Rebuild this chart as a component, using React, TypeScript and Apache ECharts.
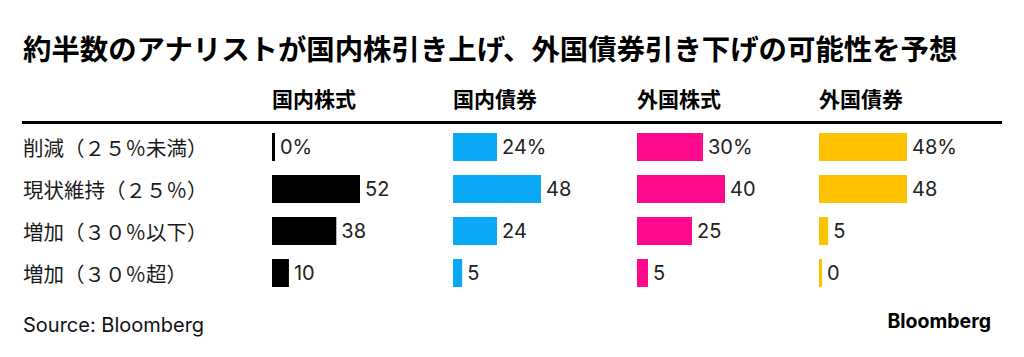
import React, { useEffect, useRef } from "react";
import * as echarts from "echarts";

const titleText = "約半数のアナリストが国内株引き上げ、外国債券引き下げの可能性を予想";
const categories = ["削減（２５％未満）", "現状維持（２５％）", "増加（３０％以下）", "増加（３０％超）"];
const columnNames = ["国内株式", "国内債券", "外国株式", "外国債券"];
const domesticStocks = [0, 52, 38, 10];
const domesticBonds = [24, 48, 24, 5];
const foreignStocks = [30, 40, 25, 5];
const foreignBonds = [48, 48, 5, 0];
const sourceText = "Source: Bloomberg";
const logoText = "Bloomberg";

const seriesData = [domesticStocks, domesticBonds, foreignStocks, foreignBonds];
const colors = ["#000000", "#0AA8F5", "#FF0A8C", "#FFC200"];
const colLefts = [272, 453, 637, 819];
const barSpan = 88;
const CJK = '"Noto Sans CJK JP", "Noto Sans", sans-serif';
const LATIN = 'Inter, "Liberation Sans", sans-serif';

export default function App() {
  const ref = useRef<HTMLDivElement>(null);
  useEffect(() => {
    if (!ref.current) return;
    const chart = echarts.init(ref.current, null, { renderer: "svg" });
    const grids = colLefts.map((left) => ({ left, top: 126, width: barSpan, height: 168 }));
    const xAxes = seriesData.map((d, i) => ({
      type: "value" as const,
      gridIndex: i,
      min: 0,
      max: Math.max(...d),
      show: false,
    }));
    const yAxes = seriesData.map((_, i) => ({
      type: "category" as const,
      gridIndex: i,
      data: categories,
      inverse: true,
      axisLine: { show: false },
      axisTick: { show: false },
      splitLine: { show: false },
      axisLabel: {
        show: i === 0,
        align: "left" as const,
        margin: colLefts[0] - 23,
        color: "#1a1a1a",
        fontSize: 20.5,
        fontFamily: CJK,
      },
    }));
    const series = seriesData.map((d, i) => ({
      type: "bar" as const,
      xAxisIndex: i,
      yAxisIndex: i,
      data: d,
      barWidth: 28,
      barMinHeight: 3,
      itemStyle: { color: colors[i] },
      label: {
        show: true,
        position: "right" as const,
        distance: 5,
        color: "#222",
        fontSize: 20,
        fontFamily: LATIN,
        formatter: (p: any) => (p.dataIndex === 0 ? `${p.value}%` : `${p.value}`),
      },
    }));
    const graphic: any[] = [
      {
        type: "text",
        x: 23,
        y: 47,
        style: {
          text: titleText,
          fill: "#000",
          font: `bold 28.4px ${CJK}`,
          textAlign: "left",
          textVerticalAlign: "middle",
          align: "left",
          verticalAlign: "middle",
        },
      },
      ...columnNames.map((name, i) => ({
        type: "text",
        x: colLefts[i],
        y: 98,
        style: {
          text: name,
          fill: "#000",
          font: `bold 21px ${CJK}`,
          textAlign: "left",
          textVerticalAlign: "middle",
          align: "left",
          verticalAlign: "middle",
        },
      })),
      {
        type: "line",
        shape: { x1: 22, y1: 122.5, x2: 1002, y2: 122.5 },
        style: { stroke: "#000", lineWidth: 3 },
      },
      {
        type: "text",
        x: 23,
        y: 325,
        style: {
          text: sourceText,
          fill: "#111",
          font: `20px ${LATIN}`,
          textAlign: "left",
          textVerticalAlign: "middle",
          align: "left",
          verticalAlign: "middle",
        },
      },
      {
        type: "text",
        x: 991,
        y: 321,
        style: {
          text: logoText,
          fill: "#000",
          font: `bold 19.5px ${LATIN}`,
          textAlign: "right",
          textVerticalAlign: "middle",
          align: "right",
          verticalAlign: "middle",
        },
      },
    ];
    chart.setOption({
      animation: false,
      backgroundColor: "#ffffff",
      grid: grids,
      xAxis: xAxes,
      yAxis: yAxes,
      series,
      graphic,
    });
    return () => chart.dispose();
  }, []);
  return (
    <div
      ref={ref}
      style={{ position: "fixed", left: 0, top: 0, width: 1024, height: 357, background: "#fff" }}
    />
  );
}
